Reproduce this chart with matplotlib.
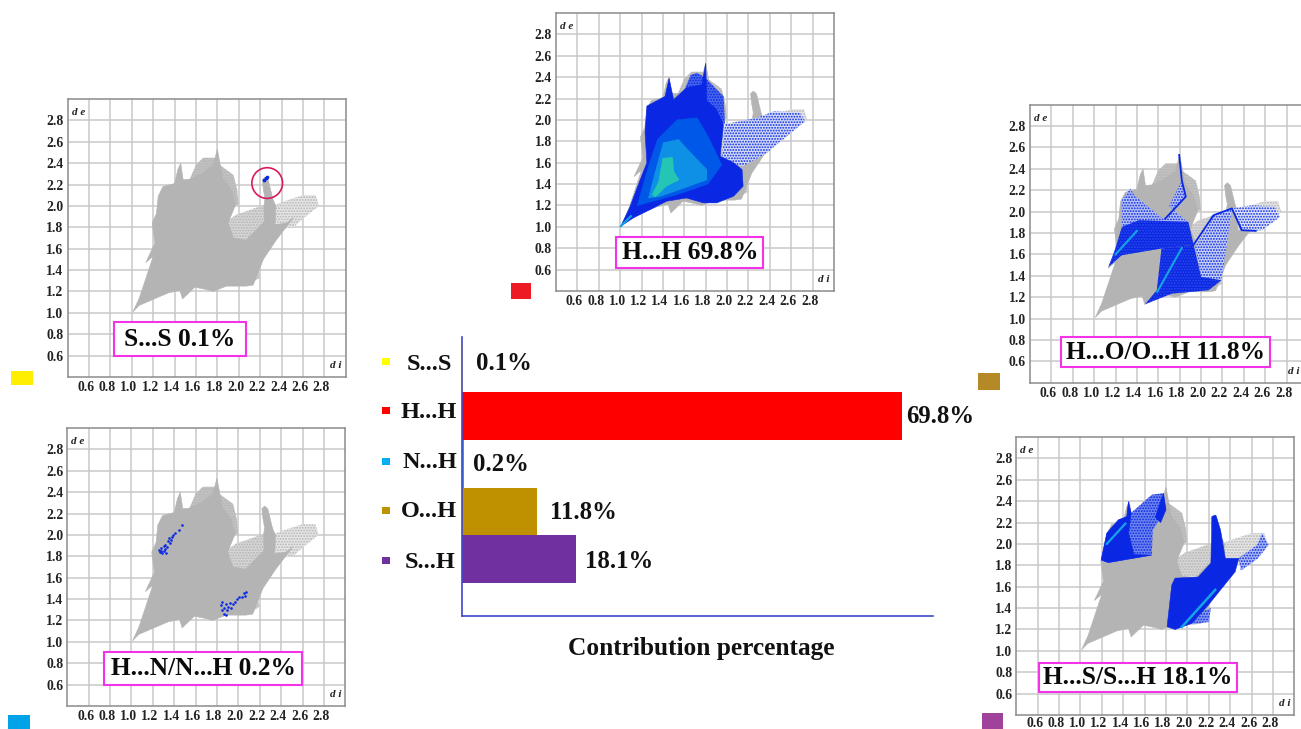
import matplotlib
matplotlib.use("Agg")
import matplotlib.pyplot as plt
from matplotlib.patches import Rectangle, Circle
from matplotlib.transforms import ScaledTranslation

W, H = 1301, 729
plt.rcParams["font.family"] = ["Liberation Serif", "DejaVu Serif"]
plt.rcParams["hatch.linewidth"] = 0.9

# bar chart data
categories = ["S...S", "H...H", "N...H", "O...H", "S...H"]
contribution = [0.1, 69.8, 0.2, 11.8, 18.1]
bar_colors = ["#ffff00", "#ff0000", "#00b0f0", "#bf9000", "#7030a0"]

tick_values = [0.6, 0.8, 1.0, 1.2, 1.4, 1.6, 1.8, 2.0, 2.2, 2.4, 2.6, 2.8]

# grey fingerprint, outlines read as (di, de)
grey_dense = [(1.01, 1.01), (1.07, 1.07), (1.34, 1.186), (1.449, 1.21), (1.474, 1.13), (1.589, 1.24),
              (1.70, 1.217), (1.76, 1.20), (1.885, 1.25), (2.07, 1.25), (2.135, 1.26), (2.23, 1.50),
              (2.35, 1.68), (2.45, 1.81), (2.51, 1.89), (2.447, 1.84), (2.34, 1.825), (2.347, 2.0),
              (2.32, 2.06), (2.275, 2.245), (2.245, 2.27), (2.22, 2.245), (2.23, 2.15), (2.245, 2.07),
              (2.235, 2.0), (2.24, 1.855), (2.07, 1.68), (1.95, 1.70), (1.90, 1.84), (1.97, 2.01),
              (1.93, 2.15), (1.85, 2.26), (1.80, 2.53), (1.76, 2.38), (1.65, 2.30), (1.54, 2.25),
              (1.48, 2.245), (1.457, 2.40), (1.43, 2.34), (1.40, 2.21), (1.29, 2.18), (1.246, 2.09),
              (1.23, 1.93), (1.19, 1.84), (1.214, 1.65), (1.13, 1.47), (1.20, 1.53), (1.17, 1.44),
              (1.07, 1.14)]
grey_sparse_top = [(1.82, 2.385), (1.95, 2.29), (1.985, 2.15), (1.999, 2.01), (1.8, 2.0), (1.52, 2.2),
                   (1.60, 2.385), (1.667, 2.45), (1.776, 2.45)]
grey_sparse_wing = [(1.90, 1.70), (1.88, 1.85), (1.98, 1.92), (2.07, 1.95), (2.235, 2.01), (2.26, 1.80),
                    (2.15, 1.62)]
grey_sparse_right = [(2.34, 2.01), (2.415, 2.04), (2.60, 2.10), (2.72, 2.10), (2.75, 2.0), (2.60, 1.88),
                     (2.51, 1.80), (2.34, 1.78)]
grey_sparse_low = [(2.10, 1.27), (2.20, 1.33), (2.18, 1.40), (2.13, 1.40)]

# H...H regions
hh_dense = [(1.006, 1.006), (1.124, 1.084), (1.343, 1.193), (1.436, 1.24), (1.62, 1.27), (1.78, 1.224),
            (1.904, 1.224), (2.06, 1.286), (2.15, 1.38), (2.14, 1.536), (2.06, 1.60), (1.935, 1.66),
            (1.967, 1.957), (1.90, 2.10), (1.81, 2.18), (1.80, 2.53), (1.764, 2.33), (1.62, 2.30), (1.5, 2.19),
            (1.458, 2.39), (1.42, 2.22), (1.25, 2.13), (1.233, 1.88), (1.25, 1.6), (1.187, 1.44),
            (1.093, 1.19)]
hh_sparse_top = [(1.717, 2.44), (1.79, 2.40), (1.967, 2.22), (1.98, 1.96), (1.81, 2.07), (1.60, 2.28),
                 (1.66, 2.42)]
hh_sparse_wing = [(1.98, 1.96), (2.28, 2.02), (2.435, 2.08), (2.68, 2.07), (2.73, 1.99), (2.56, 1.85),
                  (2.37, 1.69), (2.15, 1.567), (1.95, 1.60)]
hh_mid = [(1.16, 1.20), (1.53, 1.30), (1.82, 1.40), (1.95, 1.58), (1.82, 1.85), (1.72, 2.02), (1.53, 2.0),
          (1.35, 1.82), (1.26, 1.55)]
hh_cyan = [(1.265, 1.27), (1.343, 1.567), (1.405, 1.786), (1.545, 1.817), (1.623, 1.73), (1.81, 1.536),
           (1.81, 1.44), (1.56, 1.35), (1.374, 1.286)]
hh_green = [(1.30, 1.30), (1.36, 1.42), (1.40, 1.64), (1.49, 1.65), (1.50, 1.52), (1.55, 1.44),
            (1.43, 1.38), (1.33, 1.28)]

# H...O regions
ho_dense_left = [(1.134, 1.483), (1.20, 1.66), (1.26, 1.857), (1.42, 1.92), (1.88, 1.904), (1.93, 1.69),
                 (1.63, 1.655), (1.54, 1.64), (1.258, 1.592)]
ho_dense_low = [(1.63, 1.655), (1.586, 1.265), (1.477, 1.134), (1.726, 1.233), (2.07, 1.265), (2.19, 1.358),
                (2.0, 1.39), (1.93, 1.69)]
ho_sparse_top = [(1.258, 1.857), (1.258, 2.107), (1.336, 2.216), (1.38, 2.15), (1.62, 1.95), (1.665, 1.935),
                 (1.857, 2.14), (1.82, 2.29), (1.70, 2.05), (1.88, 1.90)]
ho_sparse_mid = [(1.945, 1.67), (2.116, 1.966), (2.288, 2.03), (2.257, 1.795), (2.19, 1.358), (2.0, 1.39)]
ho_sparse_wing = [(2.288, 2.03), (2.475, 2.06), (2.69, 2.045), (2.74, 1.95), (2.57, 1.826), (2.38, 1.82)]
ho_streak_a = [(1.795, 2.53), (1.82, 2.29), (1.857, 2.14), (1.665, 1.935)]
ho_streak_b = [(1.93, 1.69), (2.116, 1.966), (2.288, 2.03), (2.38, 1.826), (2.51, 1.82)]
ho_cyan_a = [(1.20, 1.60), (1.40, 1.82)]
ho_cyan_b = [(1.59, 1.25), (1.82, 1.66)]

# H...S regions
hs_sparse_left = [(1.193, 1.85), (1.246, 2.10), (1.355, 2.225), (1.433, 2.256), (1.449, 2.397), (1.474, 2.29),
                  (1.667, 2.46), (1.776, 2.475), (1.80, 2.32), (1.676, 2.13), (1.667, 1.897), (1.26, 1.825)]
hs_dense_left = [(1.193, 1.85), (1.246, 2.10), (1.355, 2.225), (1.433, 2.256), (1.449, 2.397), (1.474, 2.29),
                 (1.45, 2.1), (1.50, 1.90), (1.667, 1.895), (1.26, 1.825)]
hs_dense_top = [(1.70, 2.25), (1.776, 2.475), (1.80, 2.32), (1.75, 2.20)]
hs_dense_right = [(1.81, 1.225), (1.854, 1.616), (1.885, 1.68), (2.10, 1.69), (2.22, 1.82), (2.23, 2.256),
                  (2.266, 2.27), (2.31, 2.13), (2.355, 1.865), (2.48, 1.865), (2.447, 1.74), (2.197, 1.43),
                  (2.04, 1.256), (1.885, 1.20)]
hs_sparse_low = [(2.04, 1.25), (2.2, 1.27), (2.22, 1.40), (2.14, 1.37)]
hs_sparse_strip = [(2.48, 1.865), (2.65, 1.99), (2.70, 2.10), (2.76, 1.99), (2.66, 1.865), (2.50, 1.75)]
hs_cyan_a = [(1.246, 2.0), (1.42, 2.19)]
hs_cyan_b = [(1.95, 1.225), (2.26, 1.57)]

# H...N points
hn_di = [1.26, 1.27, 1.28, 1.29, 1.30, 1.30, 1.31, 1.32, 1.33, 1.28, 1.31, 1.34, 1.36, 1.35, 1.38, 1.37, 1.39,
         1.41, 1.44, 1.47, 1.84, 1.85, 1.85, 1.87, 1.87, 1.88, 1.89, 1.88, 1.90, 1.92, 1.93, 1.95, 1.97, 1.99,
         2.01, 2.03, 2.05, 2.07, 2.06]
hn_de = [1.86, 1.84, 1.88, 1.83, 1.90, 1.85, 1.87, 1.83, 1.89, 1.85, 1.91, 1.94, 1.92, 1.97, 1.98, 1.95, 2.0,
         2.02, 2.05, 2.09, 1.34, 1.30, 1.37, 1.32, 1.26, 1.35, 1.30, 1.25, 1.33, 1.36, 1.32, 1.35, 1.37, 1.40,
         1.42, 1.42, 1.46, 1.47, 1.43]
ss_di = [2.24, 2.25, 2.26]
ss_de = [2.24, 2.26, 2.27]

GREY = "#b4b4b4"
BLUE = "#0a28e4"
MID = "#0058e8"
CYAN = "#12a4e4"
GREEN = "#2fdca0"
PINK = "#f433e8"

fig = plt.figure(figsize=(W / 100, H / 100), dpi=100, facecolor="white")


def px_axes(left, top, right, bottom):
    return fig.add_axes([left / W, 1 - bottom / H, (right - left) / W, (bottom - top) / H])


def px_rect(left, top, right, bottom, **kw):
    rect = Rectangle((left / W, 1 - bottom / H), (right - left) / W, (bottom - top) / H,
                     transform=fig.transFigure, **kw)
    fig.add_artist(rect)


def poly(ax, pts, color, zorder=2, alpha=1.0):
    xs, ys = zip(*pts)
    ax.fill(xs, ys, color=color, lw=0.4, zorder=zorder, alpha=alpha)


def sparse(ax, pts, color, face="none", zorder=2):
    # stippled region: dot hatch over a pale fill
    xs, ys = zip(*pts)
    ax.fill(xs, ys, facecolor=face, edgecolor=color, lw=0, hatch="......", zorder=zorder)


def speckled(ax, pts, color, zorder=2.5):
    xs, ys = zip(*pts)
    ax.fill(xs, ys, facecolor=color, edgecolor="#2f4bea", lw=0, hatch="......", zorder=zorder)


def streak(ax, pts, color, lw=1.3):
    xs, ys = zip(*pts)
    ax.plot(xs, ys, color=color, lw=lw, zorder=4)


def panel(left, top, pad=3.0, di_x=0.985):
    ax = px_axes(left, top, left + 278, top + 278)
    ax.set_xlim(0.4, 3.0)
    ax.set_ylim(0.4, 3.0)
    ax.set_xticks(tick_values, [f"{v:.1f}" for v in tick_values])
    ax.set_yticks(tick_values, [f"{v:.1f}" for v in tick_values])
    ax.tick_params(length=0, labelsize=9.8, labelcolor="#222222")
    ax.tick_params(axis="x", pad=pad)
    ax.tick_params(axis="y", pad=3)
    shift = ScaledTranslation(-3 / 100, 0, fig.dpi_scale_trans)
    for lab in ax.get_xticklabels() + ax.get_yticklabels():
        lab.set_fontweight("bold")
    for lab in ax.get_xticklabels():
        lab.set_transform(lab.get_transform() + shift)
    ax.grid(True, color="#c9c9c9", lw=1.1, zorder=0)
    ax.set_axisbelow(True)
    for s in ax.spines.values():
        s.set_color("#8c8c8c")
        s.set_linewidth(1.1)
    ax.text(0.015, 0.95, "d e", transform=ax.transAxes, fontsize=8, fontweight="bold", style="italic",
            color="#222222", va="center")
    ax.text(di_x, 0.04, "d i", transform=ax.transAxes, fontsize=8, fontweight="bold", style="italic",
            color="#222222", ha="right", va="center")
    sparse(ax, grey_sparse_top, GREY, face="#c2c2c2", zorder=1)
    sparse(ax, grey_sparse_wing, GREY, face="#d6d6d6", zorder=1)
    sparse(ax, grey_sparse_right, GREY, face="#e6e6e6", zorder=1)
    sparse(ax, grey_sparse_low, GREY, face="#d0d0d0", zorder=1)
    poly(ax, grey_dense, GREY, zorder=1.5)
    return ax


def label_box(left, top, right, bottom, text, size=18.3):
    px_rect(left, top, right, bottom, facecolor="white", edgecolor=PINK, lw=1.5, zorder=5)
    fig.text((left + right) / 2 / W, 1 - ((top + bottom) / 2 + 0.5) / H, text, fontsize=size, fontweight="bold",
             color="#0a0a0a", ha="center", va="center", zorder=6)


# S...S
ax1 = panel(67.7, 99)
ax1.scatter(ss_di, ss_de, s=7, color=BLUE, zorder=4, lw=0)
ax1.add_patch(Circle((2.266, 2.214), 0.1435, fill=False, edgecolor="#d81b60", lw=1.2, zorder=4))
label_box(114.3, 322.3, 245.7, 356, "S...S 0.1%")
px_rect(11, 370.5, 33, 385, facecolor="#ffee00", lw=0)

# H...H
ax2 = panel(556, 13)
sparse(ax2, hh_sparse_top, BLUE, face="#4a66ec", zorder=2)
sparse(ax2, hh_sparse_wing, BLUE, face="#d5dcf8", zorder=2)
poly(ax2, hh_dense, BLUE, zorder=2.5)
poly(ax2, hh_mid, MID, zorder=3)
poly(ax2, hh_cyan, CYAN, zorder=3.2, alpha=0.75)
poly(ax2, hh_green, GREEN, zorder=3.4, alpha=0.7)
streak(ax2, [(1.006, 1.006), (1.10, 1.10)], CYAN, lw=1.5)
label_box(616.3, 237, 763.3, 267.7, "H...H 69.8%", size=18.5)
px_rect(511, 283, 531, 299, facecolor="#ed1c24", lw=0)

# H...O/O...H
ax3 = panel(1030, 104.7, di_x=0.971)
sparse(ax3, ho_sparse_top, BLUE, face="#b9c4f5", zorder=2)
sparse(ax3, ho_sparse_mid, BLUE, face="#c9d2f6", zorder=2)
sparse(ax3, ho_sparse_wing, BLUE, face="#dfe4fa", zorder=2)
speckled(ax3, ho_dense_left, BLUE)
speckled(ax3, ho_dense_low, BLUE)
streak(ax3, ho_streak_a, BLUE)
streak(ax3, ho_streak_b, BLUE)
streak(ax3, ho_cyan_a, CYAN, lw=1.5)
streak(ax3, ho_cyan_b, CYAN, lw=1.5)
label_box(1061, 337.3, 1269.7, 366.7, "H...O/O...H 11.8%")
px_rect(978, 373, 1000, 390, facecolor="#b58a26", lw=0)

# H...S/S...H
ax4 = panel(1016.3, 437, pad=1.2)
sparse(ax4, hs_sparse_left, BLUE, face="#6f86ee", zorder=2)
sparse(ax4, hs_sparse_low, BLUE, face="#8a9df0", zorder=2)
sparse(ax4, hs_sparse_strip, BLUE, face="#aebbf4", zorder=2)
poly(ax4, hs_dense_left, BLUE, zorder=2.5)
poly(ax4, hs_dense_top, BLUE, zorder=2.5)
poly(ax4, hs_dense_right, BLUE, zorder=2.5)
streak(ax4, hs_cyan_a, CYAN, lw=1.6)
streak(ax4, hs_cyan_b, CYAN, lw=1.8)
label_box(1039.3, 663.3, 1236.7, 691.7, "H...S/S...H 18.1%")
px_rect(982, 713, 1003, 729, facecolor="#a0429c", lw=0)

# H...N/N...H
ax5 = panel(67.3, 428)
ax5.scatter(hn_di, hn_de, s=3.5, color=BLUE, zorder=4, lw=0)
label_box(104.3, 651.7, 302, 685, "H...N/N...H 0.2%")
px_rect(8, 715, 30, 729, facecolor="#00a2e8", lw=0)

# centre bar chart
bx = px_axes(462.5, 337, 933, 616)
px_per_unit = 6.29
bx.barh(range(len(categories)), contribution, height=1.0, color=bar_colors, lw=0, zorder=2)
bx.set_xlim(0, 470.5 / px_per_unit)
bx.set_ylim(4 + (616 - 559.3) / 47.85, -(368 - 337) / 47.85)
bx.set_xticks([])
bx.set_yticks([])
bx.patch.set_alpha(0)
for side in ("top", "right"):
    bx.spines[side].set_visible(False)
for side in ("left", "bottom"):
    bx.spines[side].set_color("#3f48cc")
    bx.spines[side].set_linewidth(1.2)

value_gap = [12.7, 4.5, 9.7, 13, 8.5]
value_base = [2, 6.85, 7.3, 7.75, 8.9]
name_right = [452.5, 457, 457, 457, 456]
name_base = [370, 418, 467.7, 517, 567.7]
key_mid = [361.7, 411, 461, 510.7, 560.7]
for i, (name, val) in enumerate(zip(categories, contribution)):
    bx.annotate(f"{val}%", (val, i), xytext=(value_gap[i] / 1.389, -value_base[i] / 1.389),
                textcoords="offset points", fontsize=17.8, fontweight="bold", color="#111111",
                va="baseline", ha="left")
    fig.text(name_right[i] / W, 1 - name_base[i] / H, name, fontsize=17.5, fontweight="bold", color="#111111",
             ha="right", va="baseline")
    px_rect(382.5, key_mid[i] - 3.5, 390, key_mid[i] + 3.5, facecolor=bar_colors[i], lw=0)

fig.text(701.7 / W, 1 - 648.5 / H, "Contribution percentage", fontsize=18.3, fontweight="bold", color="#111111",
         ha="center", va="center")

fig.savefig("out.png", dpi=100)
